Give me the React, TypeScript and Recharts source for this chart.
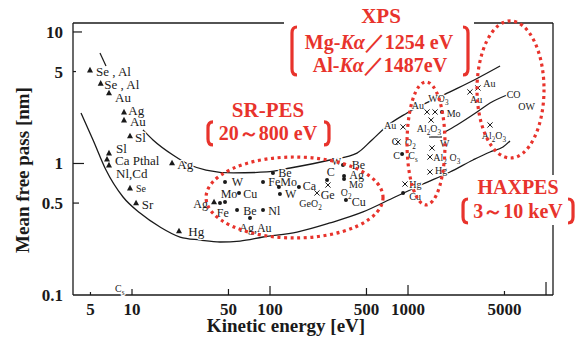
import React from 'react';
import { ComposedChart, Line, Scatter, XAxis, YAxis, ReferenceLine } from 'recharts';

// ---------------- data ----------------
const xTicks = [5, 10, 50, 100, 500, 1000, 5000, 10000];
const xTickLabels = ['5', '10', '50', '100', '500', '1000', '5000', ''];
const yTicks = [0.1, 0.5, 1, 5, 10];
const yTickLabels = ['0.1', '0.5', '1', '5', '10'];

const X_MIN = 3.736;
const X_MAX = 11237;
const Y_MIN = 0.1;
const Y_MAX = 11.7;

const upperCurve = [
  { x: 12.0, y: 1.8 }, { x: 14.2, y: 1.51 }, { x: 19.8, y: 1.16 }, { x: 26.3, y: 0.974 },
  { x: 34.4, y: 0.892 }, { x: 54, y: 0.847 }, { x: 95, y: 0.862 }, { x: 140, y: 0.924 },
  { x: 272, y: 1.063 }, { x: 427, y: 1.2 }, { x: 548, y: 1.51 }, { x: 705, y: 1.93 },
  { x: 984, y: 2.42 }, { x: 2015, y: 3.5 }, { x: 3214, y: 4.47 }, { x: 4645, y: 5.51 },
];
const lowerCurve = [
  { x: 4.27, y: 2.42 }, { x: 5.22, y: 1.51 }, { x: 6.48, y: 0.892 }, { x: 8.61, y: 0.556 },
  { x: 11.43, y: 0.42 }, { x: 15.96, y: 0.329 }, { x: 22.3, y: 0.276 }, { x: 31.1, y: 0.262 },
  { x: 43.4, y: 0.253 }, { x: 60.7, y: 0.257 }, { x: 89, y: 0.276 }, { x: 157, y: 0.301 },
  { x: 272, y: 0.353 }, { x: 472, y: 0.428 }, { x: 805, y: 0.556 }, { x: 1285, y: 0.698 },
  { x: 2015, y: 0.862 }, { x: 2958, y: 1.063 }, { x: 3930, y: 1.223 }, { x: 4878, y: 1.335 },
  { x: 5483, y: 1.483 },
];
const xpsCurve = [
  { x: 1795, y: 1.706 }, { x: 2265, y: 1.963 }, { x: 3162, y: 2.464 }, { x: 3930, y: 2.884 }, { x: 5212, y: 3.32 },
];
const xpsUnderline = [{ x: 1419, y: 1.59 }, { x: 1762, y: 1.59 }];
const steepSegment = [{ x: 5.86, y: 6.92 }, { x: 6.48, y: 5.51 }];

const triangles = [
  { x: 4.96, y: 5.14 }, { x: 5.93, y: 4.07 }, { x: 6.81, y: 3.44 }, { x: 8.75, y: 2.46 },
  { x: 8.75, y: 2.14 }, { x: 9.67, y: 1.62 }, { x: 6.81, y: 1.2 }, { x: 6.59, y: 1.08 },
  { x: 6.81, y: 0.974 }, { x: 19.5, y: 1.01 }, { x: 9.67, y: 0.651 }, { x: 10.7, y: 0.501 },
  { x: 21.9, y: 0.307 }, { x: 39.3, y: 0.51 },
];
const dots = [
  { x: 43.4, y: 0.501 }, { x: 47.2, y: 0.51 }, { x: 59.6, y: 0.597 }, { x: 47.2, y: 0.723 },
  { x: 89, y: 0.723 }, { x: 105, y: 0.847 }, { x: 116, y: 0.663 }, { x: 118, y: 0.586 },
  { x: 162, y: 0.663 }, { x: 259, y: 0.749 }, { x: 338, y: 0.974 }, { x: 344, y: 0.803 },
  { x: 344, y: 0.762 }, { x: 355, y: 0.528 }, { x: 57.7, y: 0.443 }, { x: 89, y: 0.443 },
  { x: 71.6, y: 0.385 }, { x: 906, y: 1.181 }, { x: 1762, y: 2.464 }, { x: 921, y: 0.597 },
];
const crosses = [
  { x: 219, y: 0.597 }, { x: 263, y: 0.686 }, { x: 921, y: 1.895 }, { x: 847, y: 1.457 },
  { x: 1374, y: 2.464 }, { x: 1570, y: 2.464 }, { x: 1469, y: 2.14 }, { x: 1493, y: 1.312 },
  { x: 1443, y: 1.12 }, { x: 1443, y: 0.862 }, { x: 951, y: 0.698 }, { x: 2812, y: 3.5 },
  { x: 3214, y: 3.75 }, { x: 3930, y: 1.963 },
];

// label anchors (left edge, vertical centre), '_' marks a subscript character
const labelsLeft = [
  { x: 5.48, y: 4.99, t: 'Se , Al' }, { x: 6.3, y: 4.0, t: 'Se , Al' }, { x: 7.53, y: 3.19, t: 'Au' },
  { x: 9.4, y: 2.52, t: 'Ag' }, { x: 9.67, y: 2.08, t: 'Au' }, { x: 10.5, y: 1.571, t: 'Sl' },
  { x: 7.66, y: 1.305, t: 'Sl' }, { x: 7.53, y: 1.063, t: 'Ca  Pthal' }, { x: 7.66, y: 0.842, t: 'Nl,Cd' },
  { x: 21.3, y: 0.991, t: 'Ag' }, { x: 11.76, y: 0.484, t: 'Sr' }, { x: 25.6, y: 0.303, t: 'Hg' },
];
const labelsMid = [
  { x: 27.8, y: 0.498, t: 'Ag' }, { x: 41.1, y: 0.424, t: 'Fe' }, { x: 43.9, y: 0.593, t: 'Mo' },
  { x: 64.0, y: 0.593, t: 'Cu' }, { x: 52.8, y: 0.72, t: 'W' }, { x: 97.2, y: 0.72, t: 'FeMo' },
  { x: 114.8, y: 0.851, t: 'Be' }, { x: 128.5, y: 0.593, t: 'W' }, { x: 172.6, y: 0.678, t: 'Ca' },
  { x: 233, y: 0.576, t: 'Ge' }, { x: 257.6, y: 0.857, t: 'C' }, { x: 391, y: 0.974, t: 'Be' },
  { x: 375.5, y: 0.818, t: 'Ag' }, { x: 391, y: 0.507, t: 'Cu' }, { x: 64.0, y: 0.438, t: 'Be' },
  { x: 97.2, y: 0.438, t: 'Nl' }, { x: 59.9, y: 0.322, t: 'Ag,Au' },
];
const labelsSmall = [
  { x: 10.7, y: 0.648, t: 'Se' }, { x: 7.53, y: 0.1125, t: 'C_s' }, { x: 163, y: 0.498, t: 'GeO_2' },
  { x: 280, y: 1.032, t: 'W' }, { x: 374, y: 0.695, t: 'Mo' }, { x: 325, y: 0.604, t: 'O_2' },
  { x: 670, y: 1.93, t: 'Au' }, { x: 762, y: 1.465, t: 'C' }, { x: 951, y: 1.45, t: 'O_2' },
  { x: 783, y: 1.16, t: 'C' }, { x: 1005, y: 1.16, t: 'C_s' }, { x: 1064, y: 2.737, t: 'Au' },
  { x: 1403, y: 3.094, t: 'WO_3' }, { x: 1908, y: 2.379, t: 'Mo' }, { x: 1156, y: 1.829, t: 'Al_2O_3' },
  { x: 1706, y: 1.424, t: 'W' }, { x: 1525, y: 1.115, t: 'Al_2 O_3' }, { x: 1570, y: 0.877, t: 'Hg' },
  { x: 1022, y: 0.695, t: 'Hg' }, { x: 1022, y: 0.559, t: 'Cu' }, { x: 3513, y: 4.07, t: 'Au' },
  { x: 2813, y: 3.04, t: 'Au' }, { x: 5191, y: 3.32, t: 'CO' }, { x: 6300, y: 2.7, t: 'OW' },
  { x: 3420, y: 1.618, t: 'Al_2O_3' },
];

// dotted regions: bounding boxes in data coordinates
const regions = [
  { x0: 34.4, x1: 659, y0: 0.2714, y1: 1.12 },
  { x0: 984, x1: 1854, y0: 0.484, y1: 4.17 },
  { x0: 3162, x1: 9672, y0: 1.101, y1: 12.13 },
];
// annotation anchors (block centres) in data coordinates
const annoXps = { x: 626.6, y: 8.39 };
const annoSr = { x: 96.7, y: 2.105 };
const annoHax = { x: 6166, y: 0.537 };

// ---------------- layout ----------------
const W = 568;
const H = 329;
const YAXIS_W = 65;
const XAXIS_H = 42;
const MARGIN = { top: 15, right: 23, bottom: 0, left: 0 };
const PLOT_L = YAXIS_W + MARGIN.left;
const PLOT_T = MARGIN.top;
const PLOT_W = W - PLOT_L - MARGIN.right;
const PLOT_H = H - PLOT_T - MARGIN.bottom - XAXIS_H;

const FONT = '"Liberation Serif", "Times New Roman", serif';
const RED = '#e8332c';
const INK = '#1a1a1a';

const lg = Math.log10;
const px = (x: number) => PLOT_L + ((lg(x) - lg(X_MIN)) / (lg(X_MAX) - lg(X_MIN))) * PLOT_W;
const py = (y: number) => PLOT_T + ((lg(Y_MAX) - lg(y)) / (lg(Y_MAX) - lg(Y_MIN))) * PLOT_H;

const xTickLen: Record<number, number> = { 5: 3, 10: 6, 50: 6, 100: 9, 500: 7, 1000: 10, 5000: 4, 10000: 13 };
const yTickLen: Record<number, number> = { 0.1: 0, 0.5: 6, 1: 11, 5: 3, 10: 9 };

const XTick = (props: any) => {
  const { x, y, payload } = props;
  const i = xTicks.indexOf(payload.value);
  const len = xTickLen[payload.value] ?? 4;
  return (
    <g>
      <line x1={x} x2={x} y1={y} y2={y - len} stroke={INK} strokeWidth={1.2} />
      <text x={x} y={y + 20} textAnchor="middle" fontFamily={FONT} fontWeight="bold" fontSize={17} fill={INK}>
        {i >= 0 ? xTickLabels[i] : ''}
      </text>
    </g>
  );
};

const YTick = (props: any) => {
  const { x, y, payload } = props;
  const i = yTicks.indexOf(payload.value);
  const len = yTickLen[payload.value] ?? 4;
  return (
    <g>
      {len > 0 && <line x1={x} x2={x + len} y1={y} y2={y} stroke={INK} strokeWidth={1.2} />}
      <text x={x - 10} y={y + 6} textAnchor="end" fontFamily={FONT} fontWeight="bold" fontSize={17} fill={INK}>
        {i >= 0 ? yTickLabels[i] : ''}
      </text>
    </g>
  );
};

function rich(t: string, size: number) {
  const parts: { s: string; sub: boolean }[] = [];
  let buf = '';
  for (let k = 0; k < t.length; k++) {
    if (t[k] === '_' && k + 1 < t.length) {
      if (buf) { parts.push({ s: buf, sub: false }); buf = ''; }
      parts.push({ s: t[k + 1], sub: true });
      k++;
    } else buf += t[k];
  }
  if (buf) parts.push({ s: buf, sub: false });
  let cur = 0;
  return parts.map((p, i) => {
    const target = p.sub ? size * 0.3 : 0;
    const dy = target - cur;
    cur = target;
    return (
      <tspan key={i} dy={dy !== 0 ? dy : undefined} fontSize={p.sub ? size * 0.72 : size}>
        {p.s}
      </tspan>
    );
  });
}

const labelShape = (size: number) => (props: any) => {
  const { cx, cy, payload } = props;
  if (cx == null || cy == null) return <g />;
  return (
    <text
      x={cx}
      y={cy + size * 0.35}
      fontFamily={FONT}
      fontSize={size}
      fill={INK}
      stroke="#fff"
      strokeWidth={2.5}
      paintOrder="stroke"
      strokeLinejoin="round"
    >
      {rich(payload.t, size)}
    </text>
  );
};

const TriangleShape = (props: any) => {
  const { cx, cy } = props;
  return <polygon points={`${cx},${cy - 3.2} ${cx - 3},${cy + 2.4} ${cx + 3},${cy + 2.4}`} fill={INK} />;
};
const DotShape = (props: any) => <circle cx={props.cx} cy={props.cy} r={2} fill={INK} />;
const CrossShape = (props: any) => {
  const { cx, cy } = props;
  const d = 2.6;
  return (
    <g stroke={INK} strokeWidth={1}>
      <line x1={cx - d} y1={cy - d} x2={cx + d} y2={cy + d} />
      <line x1={cx - d} y1={cy + d} x2={cx + d} y2={cy - d} />
    </g>
  );
};

const Bracket = ({ x, y0, y1, dir }: { x: number; y0: number; y1: number; dir: 1 | -1 }) => {
  const h = 5 * dir;
  return (
    <path
      d={`M ${x + h} ${y0} Q ${x} ${y0} ${x} ${y0 + 6} L ${x} ${y1 - 6} Q ${x} ${y1} ${x + h} ${y1}`}
      fill="none"
      stroke={RED}
      strokeWidth={3.2}
    />
  );
};

const redText = { fontFamily: FONT, fontWeight: 'bold' as const, fill: RED, textAnchor: 'middle' as const };

const Overlay = () => {
  const xc = px(annoXps.x), yc = py(annoXps.y);
  const sc = px(annoSr.x), sy = py(annoSr.y);
  const hc = px(annoHax.x), hy = py(annoHax.y);
  return (
    <svg width={W} height={H} style={{ position: 'absolute', left: 0, top: 0, pointerEvents: 'none', overflow: 'visible' }}>
      {regions.map((r, i) => {
        const x0 = px(r.x0), x1 = px(r.x1), y0 = py(r.y1), y1 = py(r.y0);
        return (
          <ellipse
            key={i}
            cx={(x0 + x1) / 2}
            cy={(y0 + y1) / 2}
            rx={(x1 - x0) / 2}
            ry={(y1 - y0) / 2}
            fill="none"
            stroke={RED}
            strokeWidth={3.2}
            strokeDasharray="3 3.6"
          />
        );
      })}
      {/* XPS block */}
      <rect x={xc - 96} y={0} width={190} height={yc + 34} fill="#fff" />
      <text x={xc + 1} y={yc - 19} fontSize={21} {...redText}>XPS</text>
      <text x={xc - 1} y={yc + 7} fontSize={20} {...redText}>
        Mg-<tspan fontStyle="italic">Kα</tspan>／1254 eV
      </text>
      <text x={xc} y={yc + 30} fontSize={20} {...redText}>
        Al-<tspan fontStyle="italic">Kα</tspan>／1487eV
      </text>
      <Bracket x={xc - 88} y0={yc - 15} y1={yc + 33} dir={1} />
      <Bracket x={xc + 88} y0={yc - 15} y1={yc + 33} dir={-1} />
      {/* SR-PES block */}
      <rect x={sc - 66} y={sy - 24} width={132} height={50} fill="#fff" />
      <text x={sc} y={sy - 4} fontSize={21} {...redText}>SR-PES</text>
      <text x={sc} y={sy + 19} fontSize={20} {...redText}>20～800 eV</text>
      <Bracket x={sc - 60} y0={sy + 1} y1={sy + 24} dir={1} />
      <Bracket x={sc + 61} y0={sy + 1} y1={sy + 24} dir={-1} />
      {/* HAXPES block */}
      <rect x={hc - 60} y={hy - 24} width={124} height={50} fill="#fff" />
      <text x={hc + 1} y={hy - 5} fontSize={20} {...redText}>HAXPES</text>
      <text x={hc + 1} y={hy + 19} fontSize={20} {...redText}>3～10 keV</text>
      <Bracket x={hc - 54} y0={hy} y1={hy + 24} dir={1} />
      <Bracket x={hc + 56} y0={hy} y1={hy + 24} dir={-1} />
      {/* axis titles */}
      <text
        x={21}
        y={162}
        transform="rotate(-90 21 162)"
        textAnchor="middle"
        fontFamily={FONT}
        fontWeight="bold"
        fontSize={19}
        fill={INK}
      >
        Mean free pass [nm]
      </text>
      <text x={278} y={324} textAnchor="middle" fontFamily={FONT} fontWeight="bold" fontSize={19} fill={INK}>
        Kinetic energy [eV]
      </text>
    </svg>
  );
};

export default function App() {
  return (
    <div style={{ position: 'relative', width: W, height: H }}>
      <ComposedChart width={W} height={H} margin={MARGIN}>
        <XAxis
          dataKey="x"
          type="number"
          scale="log"
          domain={[X_MIN, X_MAX]}
          ticks={xTicks}
          interval={0}
          height={XAXIS_H}
          tickSize={0}
          tickMargin={0}
          tickLine={false}
          tick={<XTick />}
          axisLine={{ stroke: INK, strokeWidth: 1.3 }}
        />
        <YAxis
          dataKey="y"
          type="number"
          scale="log"
          domain={[Y_MIN, Y_MAX]}
          ticks={yTicks}
          interval={0}
          width={YAXIS_W}
          tickSize={0}
          tickMargin={0}
          tickLine={false}
          tick={<YTick />}
          axisLine={{ stroke: INK, strokeWidth: 1.3 }}
        />
        <ReferenceLine y={Y_MAX} stroke={INK} strokeWidth={1.3} ifOverflow="visible" />
        <ReferenceLine x={X_MAX} stroke={INK} strokeWidth={1.3} ifOverflow="visible" />
        <Line data={upperCurve} dataKey="y" type="monotone" stroke={INK} strokeWidth={1.3} dot={false} isAnimationActive={false} />
        <Line data={lowerCurve} dataKey="y" type="monotone" stroke={INK} strokeWidth={1.3} dot={false} isAnimationActive={false} />
        <Line data={xpsCurve} dataKey="y" type="monotone" stroke={INK} strokeWidth={1.2} dot={false} isAnimationActive={false} />
        <Line data={xpsUnderline} dataKey="y" type="linear" stroke={INK} strokeWidth={1.2} dot={false} isAnimationActive={false} />
        <Line data={steepSegment} dataKey="y" type="linear" stroke={INK} strokeWidth={1.2} dot={false} isAnimationActive={false} />
        <Scatter data={labelsLeft} shape={labelShape(13)} isAnimationActive={false} />
        <Scatter data={labelsMid} shape={labelShape(12)} isAnimationActive={false} />
        <Scatter data={labelsSmall} shape={labelShape(10)} isAnimationActive={false} />
        <Scatter data={triangles} shape={TriangleShape} isAnimationActive={false} />
        <Scatter data={dots} shape={DotShape} isAnimationActive={false} />
        <Scatter data={crosses} shape={CrossShape} isAnimationActive={false} />
      </ComposedChart>
      <Overlay />
    </div>
  );
}
